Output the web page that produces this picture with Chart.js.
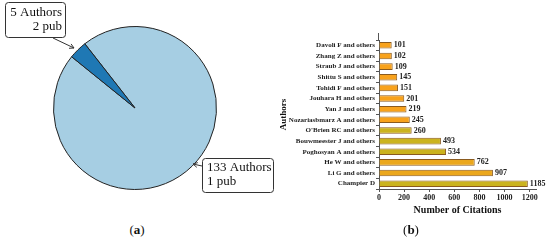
<!DOCTYPE html>
<html>
<head>
<meta charset="utf-8">
<script src="https://cdn.jsdelivr.net/npm/chart.js@4.4.1/dist/chart.umd.min.js"></script>
<style>
  body { margin: 0; background: #fff; }
  #wrap { position: relative; width: 550px; height: 242px; overflow: hidden; }
  canvas { position: absolute; }
  .cap { position: absolute; top: 222px; font: 13px "Liberation Serif", serif; color: #111; transform: translateX(-50%); }
</style>
</head>
<body>
<div id="wrap">
  <canvas id="pie-chart" width="280" height="220" style="left:0;top:0"></canvas>
  <canvas id="bar-chart" width="275" height="220" style="left:275px;top:0"></canvas>
  <div class="cap" style="left:137px">(<b>a</b>)</div>
  <div class="cap" style="left:411px">(<b>b</b>)</div>
</div>
<script>
// pie (a)
const pieLabels = ['133 Authors', '5 Authors'];
const pieSub = ['1 pub', '2 pub'];
const authorCounts = [133, 5];

// bars (b)
const authors = ['Davoli F and others', 'Zhang Z and others', 'Straub J and others', 'Shittu S and others',
  'Tohidi F and others', 'Jouhara H and others', 'Yan J and others', 'Nozariasbmarz A and others',
  "O'Brien RC and others", 'Bouwmeester J and others', 'Poghosyan A and others', 'He W and others',
  'Li G and others', 'Champier D'];
const citations = [101, 102, 109, 145, 151, 201, 219, 245, 260, 493, 534, 762, 907, 1185];
const xTicks = [0, 200, 400, 600, 800, 1000, 1200];

const serif = '"Liberation Serif", "Times New Roman", serif';

function arrow(ctx, x1, y1, x2, y2) {
  const a = Math.atan2(y2 - y1, x2 - x1);
  ctx.beginPath();
  ctx.moveTo(x1, y1);
  ctx.lineTo(x2, y2);
  ctx.moveTo(x2 - 5 * Math.cos(a - 0.5), y2 - 5 * Math.sin(a - 0.5));
  ctx.lineTo(x2, y2);
  ctx.lineTo(x2 - 5 * Math.cos(a + 0.5), y2 - 5 * Math.sin(a + 0.5));
  ctx.stroke();
}

function labelBox(ctx, x, y, w, h, lines, align) {
  ctx.save();
  ctx.fillStyle = '#fff';
  ctx.strokeStyle = '#333';
  ctx.lineWidth = 1;
  ctx.beginPath();
  ctx.roundRect(x + 0.5, y + 0.5, w, h, 3);
  ctx.fill();
  ctx.stroke();
  ctx.fillStyle = '#111';
  ctx.font = '13px ' + serif;
  ctx.textBaseline = 'middle';
  ctx.textAlign = align;
  const tx = align === 'right' ? x + w - 3 : x + 5;
  ctx.fillText(lines[0], tx, y + h / 2 - 7);
  ctx.fillText(lines[1], tx, y + h / 2 + 7);
  ctx.restore();
}

const pieNotes = {
  id: 'pieNotes',
  afterDraw(chart) {
    const ctx = chart.ctx;
    ctx.save();
    ctx.strokeStyle = '#333';
    ctx.lineWidth = 1;
    arrow(ctx, 53, 38, 74, 48);
    arrow(ctx, 202, 166, 193, 164);
    ctx.restore();
    labelBox(ctx, 5, 2, 60, 35, [pieLabels[1], pieSub[1]], 'right');
    labelBox(ctx, 202, 158, 71, 34, [pieLabels[0], pieSub[0]], 'left');
  }
};

new Chart(document.getElementById('pie-chart'), {
  type: 'pie',
  data: {
    labels: pieLabels,
    datasets: [{
      data: authorCounts,
      backgroundColor: ['#a6cee3', '#1f78b4'],
      borderColor: '#222',
      borderWidth: 1
    }]
  },
  options: {
    responsive: false,
    animation: false,
    rotation: -38,
    layout: { padding: { left: 53, right: 63, top: 26, bottom: 30 } },
    plugins: { legend: { display: false }, tooltip: { enabled: false } }
  },
  plugins: [pieNotes]
});

const valueLabels = {
  id: 'valueLabels',
  afterDraw(chart) {
    const ctx = chart.ctx;
    const meta = chart.getDatasetMeta(0);
    ctx.save();
    ctx.font = 'bold 8px ' + serif;
    ctx.fillStyle = '#222';
    ctx.textBaseline = 'middle';
    meta.data.forEach((bar, i) => {
      ctx.fillText(citations[i], bar.x + 2, bar.y);
    });
    // y axis line runs a bit above the first bar
    const area = chart.chartArea;
    ctx.strokeStyle = '#555';
    ctx.lineWidth = 1;
    ctx.beginPath();
    ctx.moveTo(area.left - 0.5, area.top);
    ctx.lineTo(area.left - 0.5, area.top - 7);
    ctx.stroke();
    ctx.restore();
  }
};

new Chart(document.getElementById('bar-chart'), {
  type: 'bar',
  data: {
    labels: authors,
    datasets: [{
      data: citations,
      backgroundColor: ['#f8a21c', '#f8a21c', '#f8a21c', '#f8a21c', '#f8a21c', '#f8a21c', '#f8a21c', '#f8a21c',
        '#cbb31e', '#cbb31e', '#cbb31e', '#eba71c', '#eba71c', '#cbb31e'],
      borderColor: '#8a5a1e',
      borderWidth: 1,
      barPercentage: 0.62,
      categoryPercentage: 1
    }]
  },
  options: {
    responsive: false,
    animation: false,
    indexAxis: 'y',
    layout: { padding: { top: 40, right: 14, left: 0, bottom: 0 } },
    plugins: { legend: { display: false }, tooltip: { enabled: false } },
    scales: {
      x: {
        min: 0,
        max: 1250,
        afterBuildTicks: (scale) => { scale.ticks = xTicks.map(v => ({ value: v })); },
        afterFit: (scale) => { scale.height = 31; },
        grid: { display: true, drawOnChartArea: false, tickLength: 3, color: '#555' },
        border: { color: '#555' },
        ticks: { font: { family: serif, size: 8, weight: 'bold' }, color: '#222', padding: 1, maxRotation: 0,
          callback: (v) => String(v) },
        title: { display: true, text: 'Number of Citations', font: { family: serif, size: 10, weight: 'bold' }, color: '#111', padding: { top: 0, bottom: 4 } }
      },
      y: {
        afterFit: (scale) => { scale.width = 104; },
        grid: { display: true, drawOnChartArea: false, tickLength: 3, color: '#555' },
        border: { color: '#555' },
        ticks: { font: { family: serif, size: 7, weight: 'bold' }, color: '#222', padding: 1, autoSkip: false },
        title: { display: true, text: 'Authors', font: { family: serif, size: 9, weight: 'bold' }, color: '#111', padding: { top: 3, bottom: 0 } }
      }
    }
  },
  plugins: [valueLabels]
});
</script>
</body>
</html>
